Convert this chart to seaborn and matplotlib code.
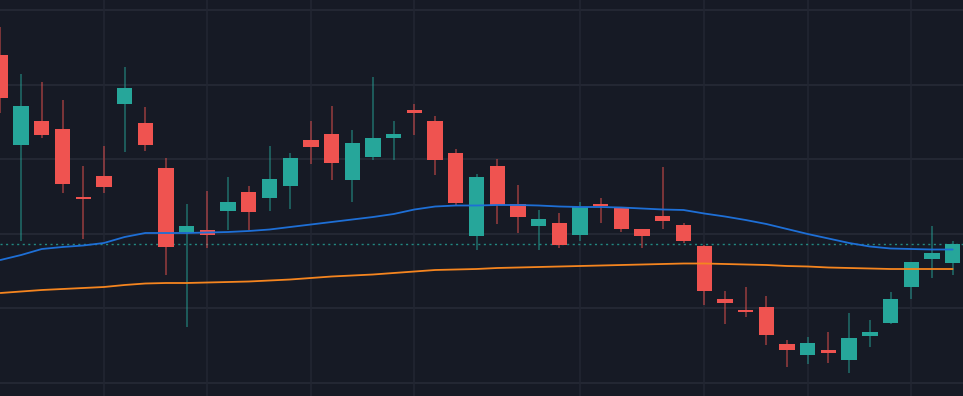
import matplotlib
matplotlib.use("Agg")
import matplotlib.pyplot as plt
import seaborn as sns
import numpy as np
import pandas as pd

# OHLC of the candles, oldest first
opens = [345, 255, 279, 271, 203, 224, 296, 277, 232, 168, 170, 189, 208, 202, 214, 260,
         266, 220, 243, 262, 290, 279, 247, 164, 234, 196, 174, 177, 165, 195, 192, 171,
         184, 175, 154, 101, 90, 93, 56, 45, 50, 40, 64, 77, 113, 141, 137]
highs = [373, 326, 318, 300, 234, 254, 333, 293, 242, 196, 209, 223, 214, 254, 247, 279,
         294, 270, 323, 279, 296, 284, 251, 226, 241, 215, 190, 187, 198, 202, 192, 171,
         233, 177, 155, 109, 113, 104, 60, 63, 68, 87, 80, 108, 138, 174, 159]
lows = [287, 159, 262, 207, 161, 207, 248, 249, 125, 73, 152, 170, 170, 189, 191, 236,
        220, 198, 240, 240, 265, 225, 195, 150, 176, 167, 150, 152, 159, 177, 168, 152,
        171, 157, 95, 76, 83, 55, 33, 36, 37, 27, 53, 76, 101, 122, 125]
closes = [302, 294, 265, 216, 201, 213, 312, 255, 153, 174, 165, 198, 188, 221, 242, 253,
          237, 257, 262, 266, 287, 240, 197, 223, 195, 183, 181, 155, 193, 194, 171, 164,
          179, 159, 109, 97, 88, 65, 50, 57, 47, 62, 68, 101, 138, 147, 156]

# moving averages
ma_fast = [140, 145, 151, 153, 154.5, 157, 163, 167, 167, 167, 167.5, 168, 169, 170.5, 173, 175.5,
           178, 180.5, 183, 186, 190.5, 193.5, 194.5, 194.5, 195, 195, 194.5, 193.5, 193, 193, 192.5, 191.5,
           190.5, 190, 186.5, 183.5, 180, 176, 171, 166, 161.5, 157, 153.5, 151.5, 151, 150.5, 150.5]
ma_slow = [107, 108.5, 110, 111, 112, 113, 115, 116.5, 117, 117, 117.5, 118, 118.5, 119.5, 120.5, 122,
           123.5, 124.5, 125.5, 127, 128.5, 130, 130.5, 131, 132, 132.5, 133, 133.5, 134, 134.5, 135, 135.5,
           136, 136.5, 136.5, 136, 135.5, 135, 134, 133.5, 132.5, 132, 131.5, 131, 131, 131, 131]

# grid positions
price_grid = [17, 92, 166, 241, 315, 390]
time_grid = [5, 10, 15, 20, 28, 34, 39, 44]

BG = "#161a25"
UP = "#26a69a"
DOWN = "#ef5350"


def main():
    df = pd.DataFrame({"open": opens, "high": highs, "low": lows, "close": closes,
                       "fast": ma_fast, "slow": ma_slow})
    df["idx"] = np.arange(len(df))
    up = df["close"] >= df["open"]

    sns.set_theme(style="dark", rc={"axes.facecolor": BG, "figure.facecolor": BG})

    fig = plt.figure(figsize=(9.63, 3.96), dpi=100)
    ax = fig.add_axes([0, 0, 1, 1])

    for y in price_grid:
        ax.axhline(y, color="#262a36", lw=1.2, zorder=0)
    for x in time_grid:
        ax.axvline(x, color="#222632", lw=1.2, zorder=0)

    colors = np.where(up, UP, DOWN)

    # wicks
    ax.vlines(df["idx"], df["low"], df["high"], colors=colors, lw=1.2, alpha=0.55, zorder=2)

    # bodies
    bottom = df[["open", "close"]].min(axis=1)
    height = (df["close"] - df["open"]).abs().clip(lower=1.8)
    ax.bar(df["idx"], height, bottom=bottom, width=0.74, color=colors, zorder=3, linewidth=0)

    sns.lineplot(data=df, x="idx", y="fast", color="#1e6fd6", lw=1.3, ax=ax, zorder=4)
    sns.lineplot(data=df, x="idx", y="slow", color="#f5851f", lw=1.3, ax=ax, zorder=4)

    # last price line
    ax.axhline(closes[-1], color=UP, lw=1.0, ls=(0, (1.5, 2.5)), alpha=0.8, zorder=1)

    ax.set_xlim(-0.02, 46.5)
    ax.set_ylim(4, 400)
    ax.set_xticks([])
    ax.set_yticks([])
    ax.set_xlabel("")
    ax.set_ylabel("")
    for s in ax.spines.values():
        s.set_visible(False)

    fig.savefig("out.png", dpi=100, facecolor=BG)


if __name__ == "__main__":
    main()
